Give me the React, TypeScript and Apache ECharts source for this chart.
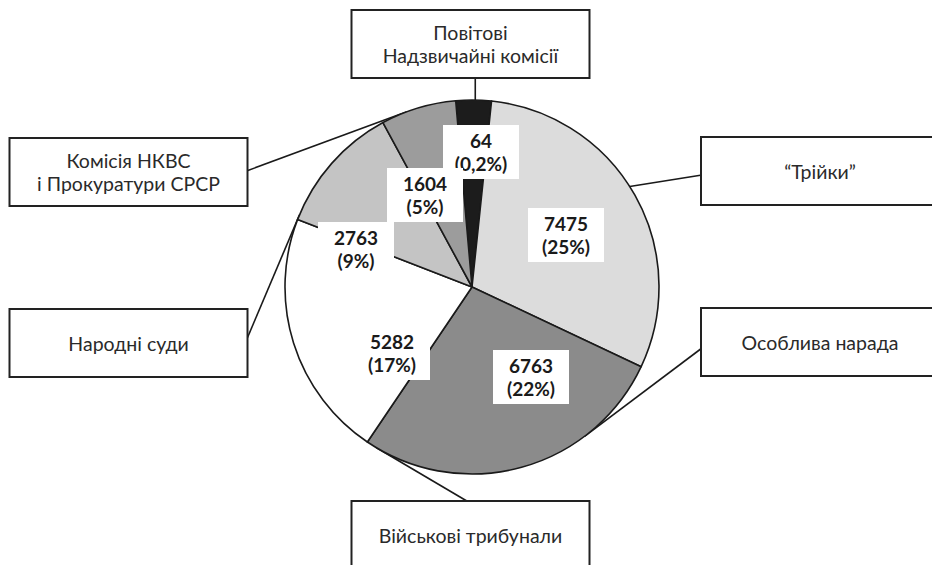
import React, { useEffect, useRef } from 'react';
import * as echarts from 'echarts';

// ---- data ----
const categories = [
  'Повітові\nНадзвичайні комісії',
  '“Трійки”',
  'Особлива нарада',
  'Військові трибунали',
  'Народні суди',
  'Комісія НКВС\nі Прокуратури СРСР',
];
const values = [64, 7475, 6763, 5282, 2763, 1604];
const percents = ['0,2%', '25%', '22%', '17%', '9%', '5%'];

// ---- styles / layout ----
const colors = ['#1c1c1c', '#dcdcdc', '#8b8b8b', '#ffffff', '#c4c4c4', '#9c9c9c'];
const CENTER = [472, 287];
const RADIUS = 187;
const innerLabelPos = [
  [481, 152],
  [566, 235],
  [531, 377],
  [392, 353],
  [356, 249],
  [425, 195],
];
// centres of the name boxes
const boxPos = [
  [470.5, 44],
  [820, 171],
  [820, 342],
  [470.5, 535],
  [128.5, 343],
  [128.5, 172],
];
const BOX_W = 236;
const BOX_H = 66;
// where each leader line touches the pie (clockwise degrees from 12 o'clock)
const leaderAngle = [1, 57.5, 143, 210.7, 292.7, 339.6];
// which side of the box each leader line leaves from, and its offset along that side
const leaderSide: [string, number][] = [
  ['bottom', 0],
  ['left', 4],
  ['left', 6],
  ['top', -2],
  ['right', -3],
  ['right', -1],
];
const FONT = 'Lato, "Open Sans", "Noto Sans", sans-serif';

function pointOnPie(deg: number) {
  const a = (deg * Math.PI) / 180;
  return [CENTER[0] + RADIUS * Math.sin(a), CENTER[1] - RADIUS * Math.cos(a)];
}

function leaderPoints(i: number) {
  const start = pointOnPie(leaderAngle[i]);
  const [cx, cy] = boxPos[i];
  const [side, off] = leaderSide[i];
  let end: number[];
  if (side === 'bottom') end = [start[0], cy + BOX_H / 2];
  else if (side === 'top') end = [cx + off, cy - BOX_H / 2];
  else if (side === 'left') end = [cx - BOX_W / 2, cy + off];
  else end = [cx + BOX_W / 2, cy + off];
  return [start, end];
}

export default function App() {
  const ref = useRef<HTMLDivElement>(null);
  useEffect(() => {
    if (!ref.current) return;
    const chart = echarts.init(ref.current, null, { renderer: 'svg' });
    const geom = {
      type: 'pie',
      center: CENTER,
      radius: RADIUS,
      startAngle: 95,
      clockwise: true,
      minAngle: 11,
      avoidLabelOverlap: false,
      silent: true,
      emphasis: { disabled: true },
    };
    const option: any = {
      animation: false,
      backgroundColor: '#ffffff',
      series: [
        // visible slices
        {
          ...geom,
          data: values.map((v, i) => ({ value: v, name: categories[i], itemStyle: { color: colors[i] } })),
          itemStyle: { borderColor: '#1a1a1a', borderWidth: 1.6 },
          label: { show: false },
          labelLine: { show: false },
        },
        // value labels (drawn above all slices)
        {
          ...geom,
          data: values.map((v, i) => ({ value: v, name: categories[i] })),
          itemStyle: { color: 'rgba(0,0,0,0)', borderWidth: 0 },
          label: {
            show: true,
            position: 'inside',
            formatter: (p: any) => `${p.value}\n(${percents[p.dataIndex]})`,
            backgroundColor: '#ffffff',
            color: '#1a1a1a',
            fontFamily: FONT,
            fontWeight: 'bold',
            fontSize: 19,
            lineHeight: 23,
            width: 64,
            align: 'center',
            padding: [4, 6],
          },
          labelLine: { show: false },
          labelLayout: (p: any) => ({
            x: innerLabelPos[p.dataIndex][0],
            y: innerLabelPos[p.dataIndex][1],
            align: 'center',
            verticalAlign: 'middle',
          }),
        },
        // category boxes with leader lines
        {
          ...geom,
          data: values.map((v, i) => ({
            value: v,
            name: categories[i],
            label: { padding: categories[i].includes('\n') ? [9.5, 2] : [21.25, 2] },
          })),
          itemStyle: { color: 'rgba(0,0,0,0)', borderWidth: 0 },
          label: {
            show: true,
            position: 'outside',
            formatter: '{b}',
            backgroundColor: '#ffffff',
            borderColor: '#222222',
            borderWidth: 2,
            width: BOX_W - 4,
            align: 'center',
            fontFamily: FONT,
            fontSize: 19.5,
            lineHeight: 23.5,
            color: '#2a2a2a',
          },
          labelLine: { show: true, length: 10, length2: 0, lineStyle: { color: '#1a1a1a', width: 1.6 } },
          labelLayout: (p: any) => ({
            x: boxPos[p.dataIndex][0],
            y: boxPos[p.dataIndex][1],
            align: 'center',
            verticalAlign: 'middle',
            labelLinePoints: leaderPoints(p.dataIndex),
          }),
        },
      ],
    };
    chart.setOption(option);
    return () => chart.dispose();
  }, []);
  return (
    <div
      ref={ref}
      style={{ position: 'fixed', left: 0, top: 0, width: 932, height: 565 }}
    />
  );
}
